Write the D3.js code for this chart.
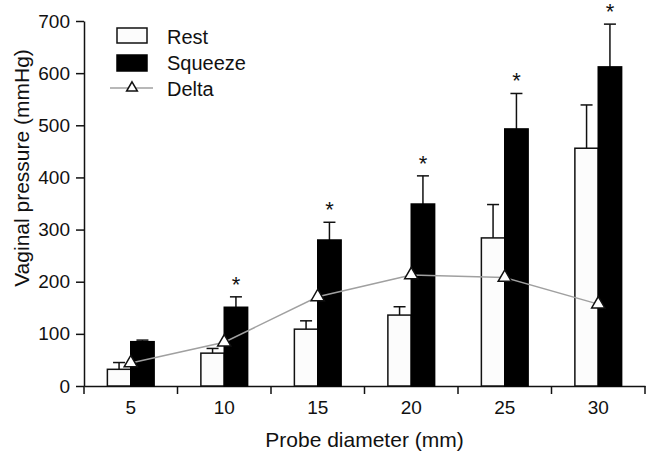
<!DOCTYPE html>
<html>
<head>
<meta charset="utf-8">
<script src="https://cdn.jsdelivr.net/npm/d3@7"></script>
<style>
  body { margin: 0; background: #fff; }
  text { font-family: "Liberation Sans", Arial, sans-serif; fill: #111; }
</style>
</head>
<body>
<div class="chart"></div>
<script>
// Probe diameter vs vaginal pressure
const diameters = ['5', '10', '15', '20', '25', '30']
const restMean = [32, 63, 109, 136, 284, 456]
const restSD = [13, 9, 16, 16, 64, 83]
const squeezeMean = [85, 151, 280, 349, 493, 612]
const squeezeSD = [3, 20, 34, 54, 68, 82]
const delta = [44, 84, 171, 213, 208, 157]
const significant = [false, true, true, true, true, true]
const yTicks = [0, 100, 200, 300, 400, 500, 600, 700]

var svgWidth = 647
var svgHeight = 457

var svg = d3.select('.chart')
    .append('svg')
    .attr('width', svgWidth)
    .attr('height', svgHeight)

var xScale = d3.scaleBand()
    .domain(diameters)
    .range([84, 645])
    .paddingInner(0.5)
    .paddingOuter(0.25)

var yScale = d3.scaleLinear()
    .domain([0, 700])
    .range([386, 21])

var bw = xScale.bandwidth() / 2
var cap = 6

// Y axis
var yAxis = svg.append('g')
    .attr('transform', 'translate(84, 0)')
    .call(d3.axisLeft(yScale).tickValues(yTicks).tickSize(8).tickSizeOuter(0).tickPadding(6))
yAxis.selectAll('text').attr('font-size', '19px')
yAxis.selectAll('line, path').attr('stroke', '#111').attr('stroke-width', 1.5)

// X axis: labels at centres, ticks at group boundaries
var xAxis = svg.append('g')
    .attr('transform', 'translate(0, 386)')
    .call(d3.axisBottom(xScale).tickSize(0).tickSizeOuter(0).tickPadding(15))
xAxis.selectAll('text').attr('font-size', '19px')
xAxis.select('path').attr('stroke', '#111').attr('stroke-width', 1.5)

var step = xScale.step()
var x0 = xScale.range()[0]
xAxis.selectAll('.sep')
    .data(d3.range(diameters.length + 1))
    .enter()
    .append('line')
    .attr('x1', i => x0 + i * step)
    .attr('x2', i => x0 + i * step)
    .attr('y1', 0)
    .attr('y2', 8)
    .attr('stroke', '#111')
    .attr('stroke-width', 1.5)

// Axis titles
svg.append('text')
    .attr('x', 364.5)
    .attr('y', 447)
    .attr('text-anchor', 'middle')
    .attr('font-size', '21px')
    .text('Probe diameter (mm)')

svg.append('text')
    .attr('transform', 'translate(29, 168) rotate(-90)')
    .attr('text-anchor', 'middle')
    .attr('font-size', '21px')
    .text('Vaginal pressure (mmHg)')

// Bars
var groups = svg.selectAll('.grp')
    .data(diameters)
    .enter()
    .append('g')
    .attr('class', 'grp')

function errorBar(sel, xOf, mean, sd) {
    sel.append('line')
        .attr('x1', (d, i) => xOf(d) + bw / 2)
        .attr('x2', (d, i) => xOf(d) + bw / 2)
        .attr('y1', (d, i) => yScale(mean[i]))
        .attr('y2', (d, i) => yScale(mean[i] + sd[i]))
        .attr('stroke', '#111')
        .attr('stroke-width', 1.5)
    sel.append('line')
        .attr('x1', (d, i) => xOf(d) + bw / 2 - cap)
        .attr('x2', (d, i) => xOf(d) + bw / 2 + cap)
        .attr('y1', (d, i) => yScale(mean[i] + sd[i]))
        .attr('y2', (d, i) => yScale(mean[i] + sd[i]))
        .attr('stroke', '#111')
        .attr('stroke-width', 1.5)
}

var restX = d => xScale(d)
var squeezeX = d => xScale(d) + bw

errorBar(groups, restX, restMean, restSD)
errorBar(groups, squeezeX, squeezeMean, squeezeSD)

groups.append('rect')
    .attr('x', restX)
    .attr('y', (d, i) => yScale(restMean[i]))
    .attr('width', bw)
    .attr('height', (d, i) => yScale(0) - yScale(restMean[i]))
    .attr('fill', '#fcfcfc')
    .attr('stroke', '#111')
    .attr('stroke-width', 1.5)

groups.append('rect')
    .attr('x', squeezeX)
    .attr('y', (d, i) => yScale(squeezeMean[i]))
    .attr('width', bw)
    .attr('height', (d, i) => yScale(0) - yScale(squeezeMean[i]))
    .attr('fill', '#000')
    .attr('stroke', '#000')
    .attr('stroke-width', 1.5)

// Significance stars
groups.filter((d, i) => significant[i])
    .append('text')
    .attr('x', d => squeezeX(d) + bw / 2)
    .attr('y', d => yScale(squeezeMean[diameters.indexOf(d)] + squeezeSD[diameters.indexOf(d)]) - 5)
    .attr('text-anchor', 'middle')
    .attr('font-size', '22px')
    .text('*')

// Delta line
var tri = d3.symbol().type(d3.symbolTriangle).size(75)
var line = d3.line()
    .x((d, i) => xScale(diameters[i]) + xScale.bandwidth() / 2)
    .y(d => yScale(d))

svg.append('path')
    .datum(delta)
    .attr('d', line)
    .attr('fill', 'none')
    .attr('stroke', '#a0a0a0')
    .attr('stroke-width', 1.5)

svg.selectAll('.tri')
    .data(delta)
    .enter()
    .append('path')
    .attr('transform', (d, i) => `translate(${xScale(diameters[i]) + xScale.bandwidth() / 2}, ${yScale(d)})`)
    .attr('d', tri)
    .attr('fill', '#fff')
    .attr('stroke', '#111')
    .attr('stroke-width', 1.5)

// Legend
var legend = svg.append('g')
legend.append('rect')
    .attr('x', 117).attr('y', 28).attr('width', 30).attr('height', 15)
    .attr('fill', '#fcfcfc').attr('stroke', '#111').attr('stroke-width', 1.5)
legend.append('rect')
    .attr('x', 117).attr('y', 55).attr('width', 30).attr('height', 16)
    .attr('fill', '#000').attr('stroke', '#000').attr('stroke-width', 1.5)
legend.append('line')
    .attr('x1', 110).attr('x2', 153).attr('y1', 88).attr('y2', 88)
    .attr('stroke', '#a0a0a0').attr('stroke-width', 1.5)
legend.append('path')
    .attr('transform', 'translate(132, 88)')
    .attr('d', d3.symbol().type(d3.symbolTriangle).size(50))
    .attr('fill', '#fff').attr('stroke', '#111').attr('stroke-width', 1.5)

var labels = ['Rest', 'Squeeze', 'Delta']
legend.selectAll('.lab')
    .data(labels)
    .enter()
    .append('text')
    .attr('x', 167)
    .attr('y', (d, i) => 44 + i * 26)
    .attr('font-size', '20px')
    .text(d => d)
</script>
</body>
</html>
